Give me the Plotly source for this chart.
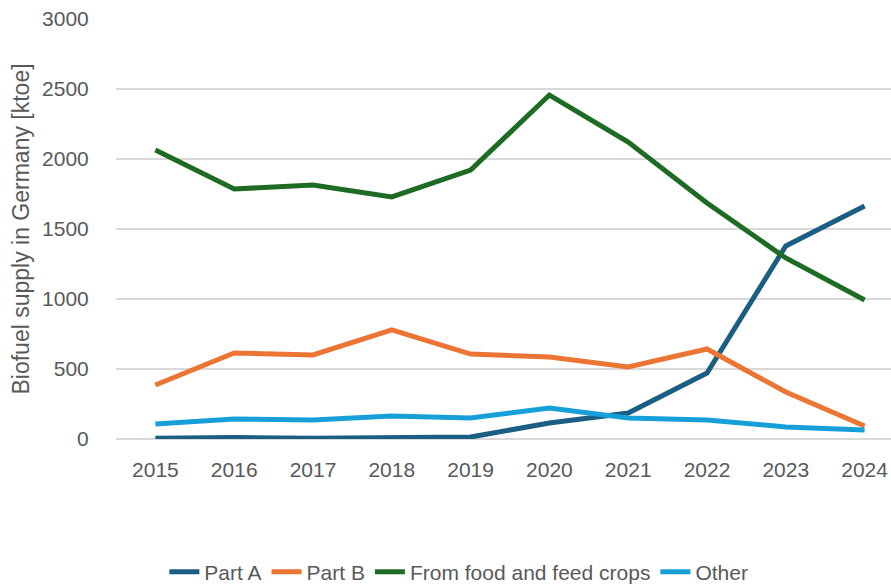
import plotly.graph_objects as go

years = ["2015", "2016", "2017", "2018", "2019", "2020", "2021", "2022", "2023", "2024"]
part_a = [5, 10, 5, 10, 14, 114, 186, 471, 1379, 1664]
part_b = [386, 614, 600, 779, 607, 586, 514, 643, 336, 93]
food_feed = [2064, 1786, 1814, 1729, 1921, 2457, 2121, 1686, 1293, 993]
other = [107, 143, 136, 164, 150, 221, 150, 136, 86, 64]

series = [
    ("Part A", part_a, "#1b5e84"),
    ("Part B", part_b, "#ec7533"),
    ("From food and feed crops", food_feed, "#1e6b24"),
    ("Other", other, "#17a0d8"),
]

fig = go.Figure()
for name, vals, col in series:
    fig.add_trace(go.Scatter(x=years, y=vals, name=name, mode="lines",
                             line=dict(color=col, width=5)))

font = "Liberation Sans, Arial, sans-serif"
fig.update_layout(
    width=891, height=588,
    margin=dict(l=116, r=0, t=19, b=149),
    paper_bgcolor="white", plot_bgcolor="white",
    font=dict(family=font, size=21, color="#595959"),
    showlegend=True,
    legend=dict(orientation="h", xref="container", yref="container",
                x=0.515, xanchor="center", y=0.027, yanchor="middle",
                font=dict(size=21, color="#595959"), traceorder="normal"),
    xaxis=dict(type="category", range=[-0.5, 9.335], showgrid=False, showline=False,
               zeroline=False, ticks="outside", ticklen=12, tickcolor="rgba(0,0,0,0)",
               tickfont=dict(size=21, color="#595959")),
    yaxis=dict(range=[0, 3000], dtick=500, showgrid=True, gridcolor="#d9d9d9",
               gridwidth=1.5, zeroline=True, zerolinecolor="#d9d9d9", zerolinewidth=1.5,
               showline=False, ticks="outside", ticklen=22, tickcolor="rgba(0,0,0,0)",
               tickfont=dict(size=21, color="#595959"),
               title=dict(text="Biofuel supply in Germany [ktoe]", standoff=6,
                          font=dict(size=23, color="#595959"))),
)

fig.write_html("out.html")
